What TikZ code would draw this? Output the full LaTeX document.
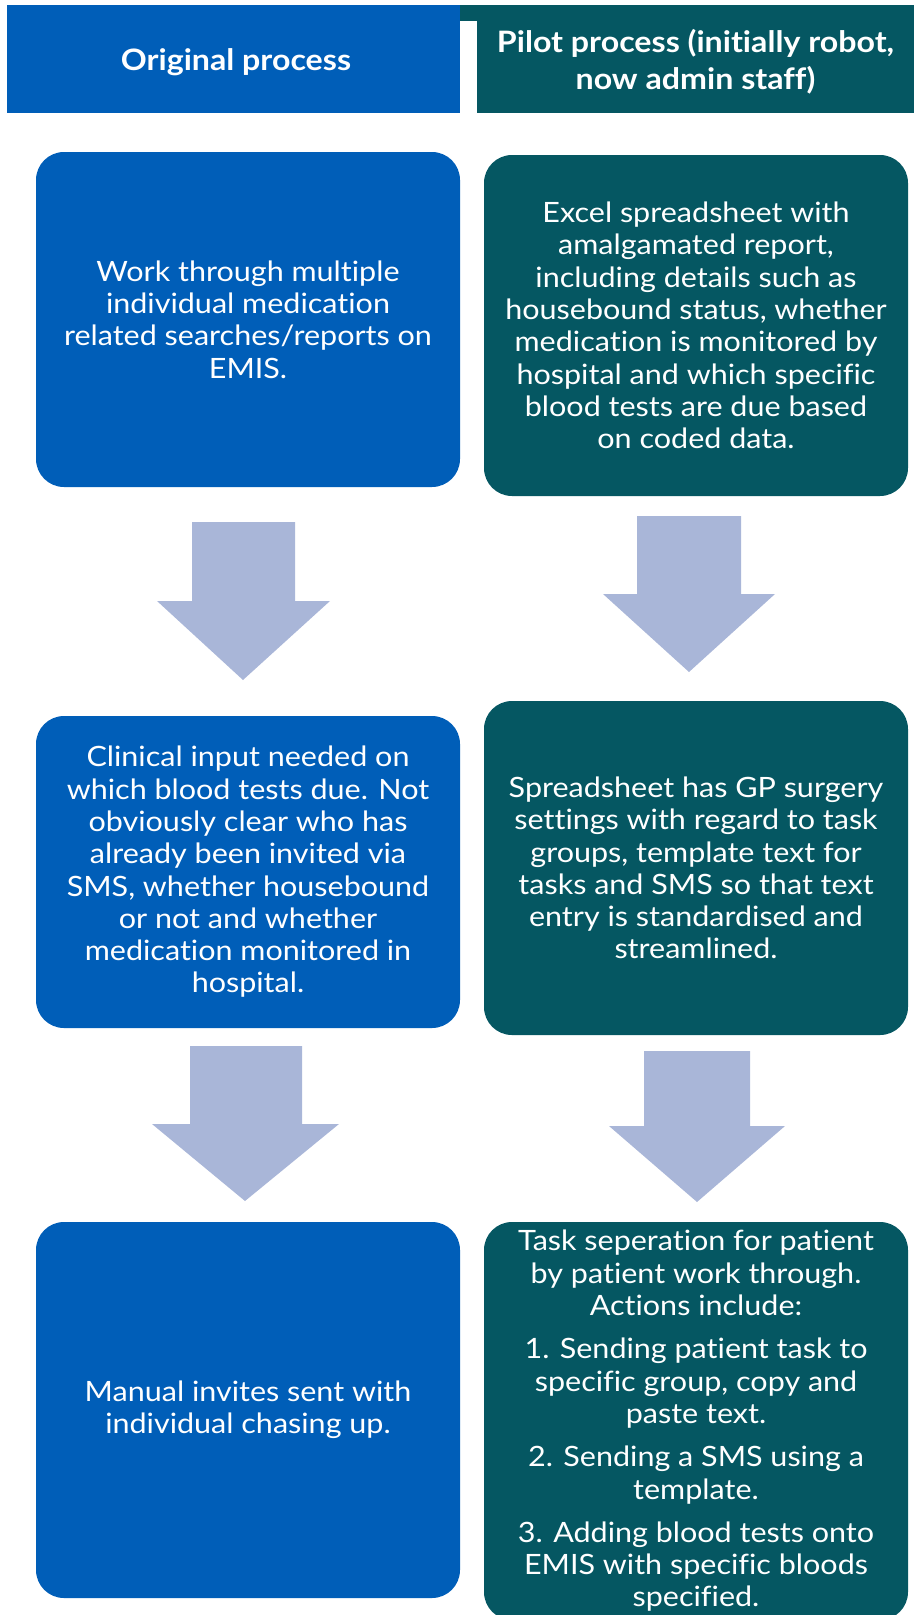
\documentclass[tikz,border=0pt]{standalone}
\usepackage{fontspec}
\setmainfont{Lato}[FakeStretch=1.09, Ligatures=NoCommon]
\definecolor{nhsblue}{RGB}{0,94,184}
\definecolor{pilotteal}{RGB}{5,87,98}
\definecolor{flowarrow}{RGB}{169,182,216}
\tikzset{
  stepbox/.style={rounded corners=28pt, inner sep=0pt, outer sep=0pt,
    minimum width=424pt, text=white, align=center,
    font=\fontsize{28}{32.3}\selectfont},
  bluebox/.style={stepbox, fill=nhsblue},
  tealbox/.style={stepbox, fill=pilotteal},
  headtext/.style={text=white, align=center, inner sep=0pt,
    font=\bfseries\fontsize{29.5}{37}\selectfont},
  blockarrow/.style={fill=flowarrow}
}
% block arrow: shaft left, shaft right, shaft top, head base, head left, head right, tip x, tip y
\newcommand\flowdown[8]{%
  \fill[blockarrow] (#1,#3) -- (#2,#3) -- (#2,#4) -- (#6,#4) -- (#7,#8)
    -- (#5,#4) -- (#1,#4) -- cycle;}
\begin{document}
\begin{tikzpicture}[x=1pt,y=-1pt]
\useasboundingbox (0,0) rectangle (914,1615);

% column headers
\node[fill=nhsblue, minimum width=453pt, minimum height=108pt, inner sep=0pt,
  outer sep=0pt] (h1) at (233.5,59) {};
\node[headtext] (h1t) at (236,62) {Original process};
\fill[pilotteal] (460,5) rectangle (914,113);
\fill[white] (460,21) rectangle (477,113);
\node[headtext] (h2t) at (695.5,62) {Pilot process (initially robot,\\now admin staff)};

% original process
\node[bluebox, minimum height=335pt] (l1) at (248,319.5)
  {Work through multiple\\individual medication\\related searches/reports on\\EMIS.};
\node[bluebox, minimum height=312pt] (l2) at (248,872)
  {Clinical input needed on\\which blood tests due. Not\\obviously clear who has\\already been invited via\\SMS, whether housebound\\or not and whether\\medication monitored in\\hospital.};
\node[bluebox, minimum height=376pt] (l3) at (248,1410)
  {Manual invites sent with\\individual chasing up.};

% pilot process
\node[tealbox, minimum height=341pt] (r1) at (696,325.5)
  {Excel spreadsheet with\\amalgamated report,\\including details such as\\housebound status, whether\\medication is monitored by\\hospital and which specific\\blood tests are due based\\on coded data.};
\node[tealbox, minimum height=334pt] (r2) at (696,868)
  {Spreadsheet has GP surgery\\settings with regard to task\\groups, template text for\\tasks and SMS so that text\\entry is standardised and\\streamlined.};
\node[tealbox, minimum height=398pt] (r3) at (696,1421)
  {Task seperation for patient\\by patient work through.\\Actions include:\\[11pt]1. Sending patient task to\\specific group, copy and\\paste text.\\[11pt]2. Sending a SMS using a\\template.\\[11pt]3. Adding blood tests onto\\EMIS with specific bloods\\specified.};

% flow arrows between steps
\flowdown{192}{295}{522}{601}{157}{330}{243}{680}
\flowdown{637}{741}{516}{594}{603}{775}{689}{672}
\flowdown{190}{302}{1046}{1124}{152}{339}{245}{1201}
\flowdown{644}{750}{1051}{1126}{609}{785}{697}{1202}
\end{tikzpicture}
\end{document}
